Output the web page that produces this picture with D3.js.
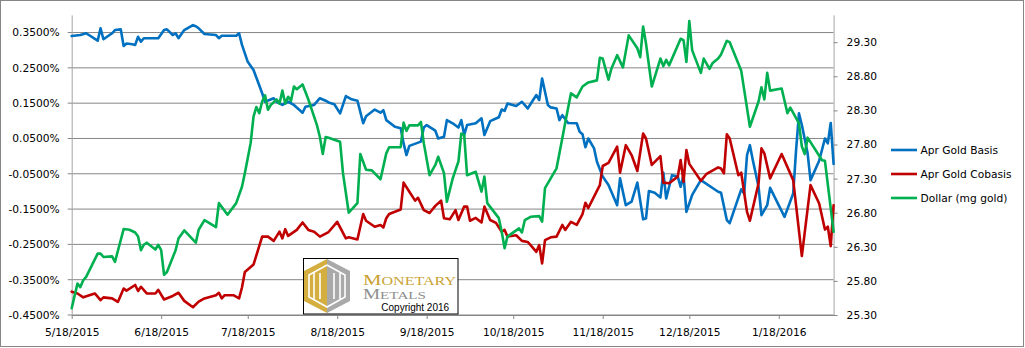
<!DOCTYPE html>
<html><head><meta charset="utf-8">
<script src="https://cdn.jsdelivr.net/npm/d3@7"></script>
<style>body{margin:0;background:#fff}svg{display:block}</style>
</head><body>
<svg id="c" width="1025" height="348"></svg>
<script>
// ---- data (days since start date; basis/cobasis in %, dollar in mg gold) ----
const startDate = "2015-05-18";
const endDate = "2016-02-06";
const xTickLabels = ["5/18/2015","6/18/2015","7/18/2015","8/18/2015","9/18/2015","10/18/2015","11/18/2015","12/18/2015","1/18/2016"];
const leftTicks = [-0.45,-0.35,-0.25,-0.15,-0.05,0.05,0.15,0.25,0.35];
const rightTicks = [25.30,25.80,26.30,26.80,27.30,27.80,28.30,28.80,29.30];
const seriesNames = ["Apr Gold Basis","Apr Gold Cobasis","Dollar (mg gold)"];

const basisDays = [0,3,5,9,10,11,14,15,17,18,19,21,22,23,24,25,30,32,33,35,36,37,39,42,43,44,46,50,51,52,57,58,59,61,63,66,67,70,71,73,75,77,80,81,84,86,88,89,91,93,95,97,99,101,102,105,107,108,109,112,114,115,116,117,121,122,123,126,127,129,130,132,134,135,136,137,140,142,143,145,148,149,150,151,154,156,158,161,162,163,165,166,168,169,170,172,175,176,177,178,179,181,182,184,186,189,190,192,194,196,198,199,200,202,204,205,206,208,210,211,212,213,215,218,224,225,227,228,232,233,234,235,236,238,239,241,242,247,250,251,252,253,255,256,259,261,262,263,264];
const basisValues = [0.340,0.343,0.348,0.327,0.362,0.331,0.348,0.357,0.359,0.312,0.319,0.317,0.315,0.338,0.324,0.334,0.334,0.357,0.359,0.343,0.348,0.334,0.357,0.371,0.368,0.362,0.346,0.343,0.334,0.341,0.341,0.348,0.315,0.267,0.244,0.178,0.154,0.164,0.154,0.145,0.154,0.145,0.123,0.140,0.145,0.164,0.157,0.152,0.147,0.121,0.170,0.161,0.157,0.093,0.113,0.132,0.123,0.130,0.102,0.083,0.079,0.036,0.003,0.029,0.041,0.081,0.088,0.072,0.050,0.055,0.102,0.093,0.081,0.102,0.060,0.088,0.093,0.107,0.060,0.099,0.110,0.132,0.128,0.149,0.142,0.154,0.135,0.173,0.159,0.220,0.145,0.138,0.135,0.102,0.116,0.094,0.093,0.069,0.062,0.025,0.050,0.022,-0.016,-0.058,-0.082,-0.139,-0.063,-0.139,-0.129,-0.075,-0.179,-0.176,-0.099,-0.104,-0.117,-0.047,-0.120,-0.054,-0.058,-0.087,-0.054,-0.158,-0.110,-0.068,-0.101,-0.104,-0.181,-0.190,-0.094,-0.106,0.003,0.031,-0.011,-0.087,-0.167,-0.139,-0.090,-0.172,-0.106,0.017,0.121,0.088,0.008,-0.068,-0.013,0.050,0.036,0.094,-0.022];

const cobasisDays = [0,2,4,8,10,11,14,16,18,19,22,23,24,26,29,30,32,35,37,39,42,44,46,50,51,52,53,56,58,59,60,63,66,68,70,72,73,74,75,78,80,82,84,86,89,92,95,96,99,101,102,105,107,108,109,110,114,115,117,119,120,122,124,126,128,129,131,133,134,136,137,138,140,142,143,145,147,149,150,151,154,156,158,159,161,162,163,164,166,168,170,171,173,175,177,178,179,183,184,186,189,190,192,194,196,198,199,201,204,205,207,210,211,212,213,214,218,220,224,225,226,227,228,231,232,234,235,238,239,240,242,246,250,253,256,259,261,262,263,264];
const cobasisValues = [-0.384,-0.389,-0.400,-0.389,-0.408,-0.400,-0.403,-0.413,-0.375,-0.381,-0.365,-0.382,-0.370,-0.389,-0.389,-0.379,-0.406,-0.396,-0.387,-0.410,-0.428,-0.412,-0.403,-0.394,-0.387,-0.403,-0.394,-0.394,-0.403,-0.372,-0.328,-0.307,-0.228,-0.228,-0.240,-0.214,-0.233,-0.207,-0.226,-0.209,-0.188,-0.209,-0.214,-0.228,-0.215,-0.186,-0.233,-0.230,-0.236,-0.164,-0.183,-0.200,-0.195,-0.202,-0.176,-0.164,-0.151,-0.075,-0.101,-0.126,-0.118,-0.153,-0.161,-0.141,-0.126,-0.176,-0.179,-0.153,-0.181,-0.143,-0.143,-0.183,-0.175,-0.188,-0.143,-0.181,-0.189,-0.214,-0.209,-0.228,-0.224,-0.240,-0.243,-0.252,-0.271,-0.252,-0.304,-0.238,-0.230,-0.228,-0.195,-0.209,-0.186,-0.195,-0.164,-0.132,-0.147,-0.082,-0.028,-0.019,0.027,-0.047,0.031,0.003,-0.042,0.064,0.050,-0.025,0.000,-0.075,-0.077,-0.058,-0.011,-0.073,0.017,-0.022,-0.070,-0.050,-0.032,-0.035,-0.049,0.062,0.050,-0.054,-0.047,-0.158,-0.183,-0.077,0.022,0.008,-0.063,0.006,-0.068,-0.283,-0.082,-0.134,-0.208,-0.200,-0.255,-0.139];

const dollarDays = [0,2,3,4,5,9,10,11,14,15,18,20,22,23,24,25,26,29,30,31,32,33,36,37,39,43,44,46,50,51,54,57,59,60,62,63,64,65,66,67,68,69,71,72,73,74,75,76,77,78,80,81,82,85,86,87,88,89,93,94,96,99,100,102,104,107,109,110,114,115,116,117,120,121,122,124,126,127,129,130,132,134,135,136,137,140,142,143,144,148,149,150,151,155,156,157,159,162,163,164,168,170,171,173,175,177,179,182,183,184,186,187,189,191,193,196,197,198,199,201,204,205,206,207,211,212,213,214,215,218,219,221,222,224,225,227,228,232,235,238,239,240,241,242,246,248,249,252,253,254,255,260,261,264];
const dollarValues = [25.40,25.76,25.71,25.81,25.86,26.20,26.20,26.15,26.16,26.08,26.56,26.55,26.51,26.45,26.25,26.33,26.36,26.26,26.33,26.25,25.89,25.93,26.25,26.42,26.54,26.36,26.55,26.69,26.59,26.94,26.77,26.94,27.18,27.38,27.82,28.21,28.35,28.26,28.43,28.52,28.31,28.38,28.46,28.40,28.59,28.40,28.50,28.44,28.65,28.61,28.68,28.57,28.46,28.08,27.91,27.66,27.91,27.90,27.84,27.38,26.80,26.94,27.66,27.43,27.42,27.29,27.67,27.76,27.76,28.12,28.00,28.08,28.08,28.13,27.82,27.35,27.50,27.62,27.38,26.96,27.30,27.55,27.96,27.94,27.35,27.40,27.11,27.33,26.94,26.72,26.52,26.28,26.45,26.57,26.51,26.69,26.74,26.75,26.67,27.16,27.45,27.89,28.12,28.55,28.49,28.65,28.71,28.74,29.07,29.06,28.75,28.91,29.11,28.93,29.40,29.21,29.08,29.53,29.28,28.65,29.06,28.95,29.04,28.96,29.35,29.33,29.01,29.61,29.18,28.85,29.06,28.91,28.99,29.06,29.12,29.32,29.30,28.88,28.06,28.43,28.64,28.46,28.85,28.59,28.62,28.26,28.34,28.11,27.77,27.66,27.90,27.57,27.56,26.52];

const colors = ["#0070C0","#C00000","#00B050"];

// ---- chart ----
const svg = d3.select("#c");
const parse = d3.utcParse("%Y-%m-%d");
const parseTick = d3.utcParse("%-m/%-d/%Y");
const t0 = parse(startDate);
const toDate = d => d3.utcDay.offset(t0, d);

const pLeft = 71.7, pRight = 833.6, pTop = 14.9, pBottom = 315;
const x = d3.scaleUtc().domain([t0, parse(endDate)]).range([pLeft, pRight]);
const yL = d3.scaleLinear().domain([-0.45, 0.40]).range([pBottom, pTop]);
const yR = d3.scaleLinear().domain([25.30, 29.70]).range([pBottom, pTop]);
const font = "'DejaVu Sans', Verdana, sans-serif";
const fs = "10.67px";

// outer border
svg.append("rect").attr("x",0.5).attr("y",0.5).attr("width",1023).attr("height",346)
  .attr("fill","#fff").attr("stroke","#868686");

// gridlines
svg.append("g").selectAll("line").data(leftTicks).join("line")
  .attr("x1",pLeft-4).attr("x2",pRight).attr("y1",d=>yL(d)).attr("y2",d=>yL(d))
  .attr("stroke","#868686").attr("stroke-width",1);

// left axis
const gL = svg.append("g").attr("transform",`translate(${pLeft},0)`)
  .call(d3.axisLeft(yL).tickValues(leftTicks).tickSize(0).tickPadding(12)
    .tickFormat(d => d.toFixed(4) + "%"));
gL.select(".domain").attr("stroke","#a6a6a6");
gL.selectAll("text").attr("font-family",font).attr("font-size",fs).attr("fill","#000");

// right axis
const gR = svg.append("g").attr("transform",`translate(${pRight},0)`)
  .call(d3.axisRight(yR).tickValues(rightTicks).tickSizeInner(4).tickSizeOuter(0).tickPadding(9)
    .tickFormat(d => d.toFixed(2)));
gR.select(".domain").attr("stroke","#a6a6a6");
gR.selectAll(".tick line").attr("stroke","#868686");
gR.selectAll("text").attr("font-family",font).attr("font-size",fs).attr("fill","#000");

// bottom axis
const gX = svg.append("g").attr("transform",`translate(0,${pBottom})`)
  .call(d3.axisBottom(x).tickValues(xTickLabels.map(s=>parseTick(s))).tickSizeInner(4).tickSizeOuter(0).tickPadding(9)
    .tickFormat(d3.utcFormat("%-m/%-d/%Y")));
gX.select(".domain").attr("stroke","#868686");
gX.selectAll(".tick line").attr("stroke","#868686");
gX.selectAll("text").attr("font-family",font).attr("font-size",fs).attr("fill","#000");

// series
const series = [
  {days: basisDays, vals: basisValues, y: yL},
  {days: cobasisDays, vals: cobasisValues, y: yL},
  {days: dollarDays, vals: dollarValues, y: yR}
];
series.forEach((s,i) => {
  const pts = s.days.map((d,k) => [toDate(d), s.vals[k]]);
  svg.append("path").datum(pts)
    .attr("fill","none").attr("stroke",colors[i]).attr("stroke-width",2.6)
    .attr("stroke-linejoin","round").attr("stroke-linecap","round")
    .attr("d", d3.line().x(p=>x(p[0])).y(p=>s.y(p[1])));
});

// legend
const lg = svg.append("g");
seriesNames.forEach((n,i) => {
  const yy = 150 + i*24;
  lg.append("line").attr("x1",891).attr("x2",917).attr("y1",yy).attr("y2",yy)
    .attr("stroke",colors[i]).attr("stroke-width",2.6);
  lg.append("text").attr("x",920.5).attr("y",yy).attr("dy","0.35em")
    .attr("font-family",font).attr("font-size",fs).attr("fill","#000").text(n);
});

// logo box
const logo = svg.append("g");
logo.append("rect").attr("x",303.5).attr("y",258.5).attr("width",154.5).attr("height",55.5)
  .attr("fill","#fff").attr("stroke","#000").attr("stroke-width",1);
const cx = 327;
logo.append("polygon").attr("points",`${cx},259 304,271 304,301 ${cx},313`).attr("fill","#D4AE3E");
logo.append("polygon").attr("points",`${cx},259 350,271 350,301 ${cx},313`).attr("fill","#A9A9A9");
logo.append("polyline").attr("points",`${cx},265 309,275 309,297 ${cx},307 345,297 345,275 ${cx},265`)
  .attr("fill","none").attr("stroke","#fff").attr("stroke-width",1.6);
[314,320,334,340].forEach(bx => {
  logo.append("line").attr("x1",bx).attr("x2",bx).attr("y1",273).attr("y2",299)
    .attr("stroke","#fff").attr("stroke-width",1.6);
});
const serif = "'Liberation Serif','DejaVu Serif',serif";
const t1 = logo.append("text").attr("x",363).attr("y",284.5).attr("font-family",serif)
  .attr("fill","#C9A233").attr("textLength",93).attr("lengthAdjust","spacingAndGlyphs");
t1.append("tspan").attr("font-size","15.5px").text("M");
t1.append("tspan").attr("font-size","12px").text("ONETARY");
const t2 = logo.append("text").attr("x",363).attr("y",298.5).attr("font-family",serif)
  .attr("fill","#8F8F8F").attr("textLength",63).attr("lengthAdjust","spacingAndGlyphs");
t2.append("tspan").attr("font-size","14px").text("M");
t2.append("tspan").attr("font-size","11px").text("ETALS");
logo.append("text").attr("x",381.3).attr("y",310.5)
  .attr("font-family","'Liberation Sans',Arial,sans-serif").attr("font-size","10px")
  .attr("fill","#000").text("Copyright 2016");
</script>
</body></html>
